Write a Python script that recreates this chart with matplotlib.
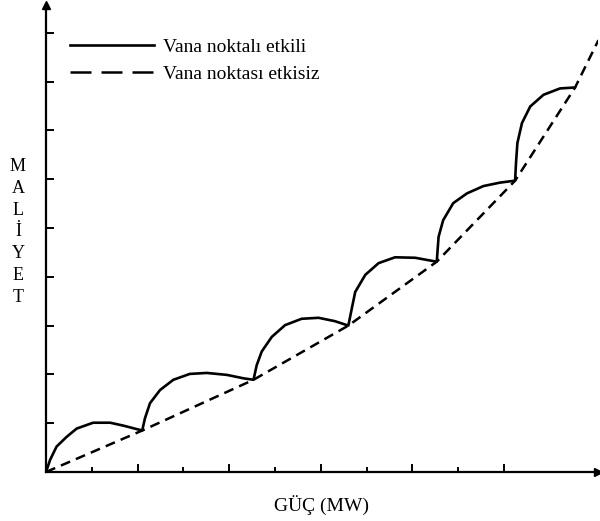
import matplotlib
matplotlib.use("Agg")
import matplotlib.pyplot as plt
from matplotlib.lines import Line2D

plt.rcParams["font.family"] = ["Liberation Serif", "DejaVu Serif"]

# valve-point effect cost curve (tick units)
solid_x = [0, 0.09, 0.23, 0.45, 0.67, 1.03, 1.40, 1.69, 2.10,
           2.16, 2.27, 2.49, 2.78, 3.14, 3.51, 3.95, 4.31, 4.53,
           4.60, 4.71, 4.93, 5.22, 5.58, 5.95, 6.31, 6.60,
           6.66, 6.75, 6.97, 7.26, 7.62, 8.06, 8.35, 8.53,
           8.57, 8.67, 8.89, 9.19, 9.55, 9.91, 10.24,
           10.26, 10.29, 10.39, 10.57, 10.86, 11.22, 11.55]
solid_y = [0, 0.25, 0.52, 0.72, 0.89, 1.01, 1.01, 0.95, 0.85,
           1.10, 1.41, 1.68, 1.89, 2.01, 2.03, 1.99, 1.92, 1.89,
           2.19, 2.47, 2.77, 3.01, 3.14, 3.16, 3.09, 3.00,
           3.28, 3.69, 4.04, 4.28, 4.40, 4.39, 4.34, 4.31,
           4.82, 5.16, 5.51, 5.71, 5.86, 5.93, 5.97,
           6.33, 6.74, 7.15, 7.49, 7.73, 7.86, 7.88]

# smooth cost curve without valve points
dashed_x = [0, 2.10, 4.53, 6.60, 8.53, 10.24, 11.55, 12.06]
dashed_y = [0, 0.85, 1.89, 3.00, 4.31, 5.97, 7.88, 8.85]

x_ticks = [1, 2, 3, 4, 5, 6, 7, 8, 9, 10]
y_ticks = [1, 2, 3, 4, 5, 6, 7, 8, 9]

labels = ["Vana noktalı etkili", "Vana noktası etkisiz"]
x_label = "GÜÇ (MW)"
y_label = "MALİYET"

fig = plt.figure(figsize=(6.0, 5.21), dpi=100)
ax = fig.add_axes([46 / 600, 49 / 521, 552 / 600, 467 / 521])

ax.plot(solid_x, solid_y, color="black", lw=1.9,
        solid_joinstyle="round", solid_capstyle="round")
ax.plot(dashed_x, dashed_y, color="black", lw=1.8, dashes=(4.0, 2.5))

ax.set_xlim(0, 12.05)
ax.set_ylim(0, 9.57)

for s in ("top", "right"):
    ax.spines[s].set_visible(False)
for s in ("left", "bottom"):
    ax.spines[s].set_linewidth(1.6)

# arrow heads on the axes
ax.plot(1, 0, ">k", ms=6, transform=ax.get_yaxis_transform(), clip_on=False)
ax.plot(0, 1, "^k", ms=6, transform=ax.get_xaxis_transform(), clip_on=False)

ax.set_xticks(x_ticks[1::2])
ax.set_xticks(x_ticks[0::2], minor=True)
ax.set_yticks(y_ticks)
ax.tick_params(axis="x", which="major", direction="in", length=6, width=1.4)
ax.tick_params(axis="x", which="minor", direction="in", length=3.5, width=1.4)
ax.tick_params(axis="y", direction="in", length=6, width=1.4)
ax.set_xticklabels([])
ax.set_yticklabels([])

ax.set_xlabel(x_label, fontsize=14, labelpad=13)
fig.text(18 / 600, 1 - 232 / 521, "\n".join(y_label), fontsize=13,
         ha="center", va="center", linespacing=1.37)

handles = [Line2D([], [], color="black", lw=1.9),
           Line2D([], [], color="black", lw=1.8, dashes=(8.4, 4.0))]
fig.legend(handles, labels, loc="upper left",
           bbox_to_anchor=(70 / 600, 1 - 38 / 521), frameon=False,
           fontsize=14, handlelength=4.3, handletextpad=0.5,
           labelspacing=0.5, borderpad=0, borderaxespad=0)

fig.savefig("out.png", dpi=100)
